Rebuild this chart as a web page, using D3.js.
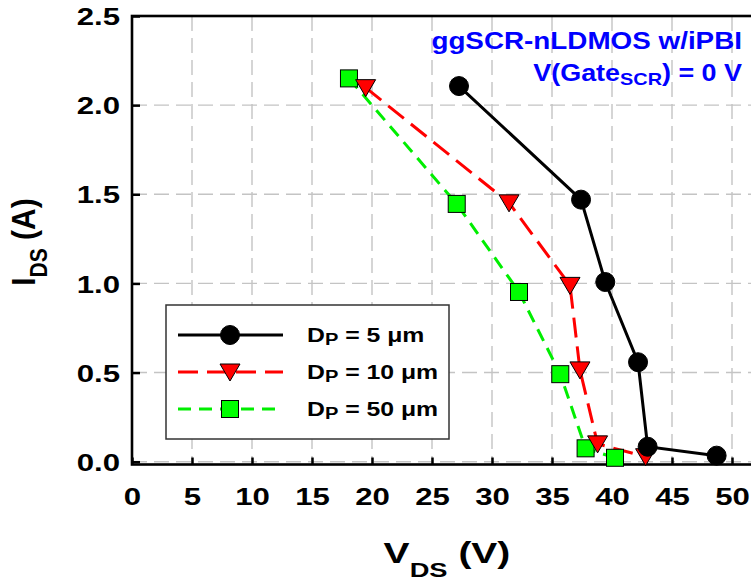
<!DOCTYPE html>
<html>
<head>
<meta charset="utf-8">
<script src="https://cdn.jsdelivr.net/npm/d3@7"></script>
<style>
  html, body { margin: 0; padding: 0; background: #fff; }
  svg { display: block; font-family: "Liberation Sans", Arial, sans-serif; }
</style>
</head>
<body>
<svg id="chart" width="751" height="583"></svg>
<script>
// Drain voltage (V) and drain current (A) for each gate-well spacing Dp
const seriesNames = ["5", "10", "50"];
const vdsDp5  = [27.25, 37.42, 39.44, 42.17, 42.97, 48.72];
const idsDp5  = [2.107, 1.470, 1.008, 0.558, 0.084, 0.034];
const vdsDp10 = [19.47, 31.42, 36.50, 37.33, 38.80, 42.80];
const idsDp10 = [2.098, 1.452, 0.989, 0.515, 0.100, 0.028];
const vdsDp50 = [18.08, 27.06, 32.25, 35.69, 37.80, 40.25];
const idsDp50 = [2.150, 1.446, 0.952, 0.491, 0.075, 0.022];

const xTicks = [0, 5, 10, 15, 20, 25, 30, 35, 40, 45, 50];
const yTicks = [0.0, 0.5, 1.0, 1.5, 2.0, 2.5];

const svg = d3.select("#chart");

// widen a text element horizontally about its anchor x
function widen(sel, sx) {
  sel.each(function () {
    const t = d3.select(this);
    const x0 = +(t.attr("x") || 0);
    t.attr("transform", `translate(${x0},0) scale(${sx},1) translate(${-x0},0)`);
  });
}

// plot frame
const pL = 132, pR = 760, pT = 16, pB = 464.5;
const x = d3.scaleLinear().domain([0, (pR - pL) / 12]).range([pL, pR]);
const y = d3.scaleLinear().domain([-0.0157, 2.5]).range([pB, pT]);

// dashed grid
const grid = svg.append("g").attr("stroke", "#c4c4c4").attr("stroke-width", 1.4)
  .attr("stroke-dasharray", "15,7");
grid.selectAll("line.v").data(xTicks.filter(d => d > 0)).join("line").attr("class", "v")
  .attr("x1", d => x(d)).attr("x2", d => x(d)).attr("y1", pT).attr("y2", pB);
grid.selectAll("line.h").data(yTicks).join("line").attr("class", "h")
  .attr("x1", pL).attr("x2", pR).attr("y1", d => y(d)).attr("y2", d => y(d));

// axes with inward ticks
const xAxis = svg.append("g").attr("transform", `translate(0,${pB})`)
  .call(d3.axisBottom(x).tickValues(xTicks).tickSize(-7).tickPadding(41).tickFormat(d3.format("d")));
const yAxis = svg.append("g").attr("transform", `translate(${pL},0)`)
  .call(d3.axisLeft(y).tickValues(yTicks).tickSize(-8).tickPadding(12).tickFormat(d3.format(".1f")));
[xAxis, yAxis].forEach(a => {
  a.select(".domain").remove();
  a.selectAll(".tick line").attr("stroke", "#000").attr("stroke-width", 2.5);
  a.selectAll(".tick text").attr("fill", "#000").attr("font-size", 24).attr("font-weight", "bold")
    .attr("font-family", "'Liberation Sans', Arial, sans-serif");
});
xAxis.selectAll(".tick text").attr("dy", "0");
yAxis.selectAll(".tick text").attr("dy", "0.36em");
widen(xAxis.selectAll(".tick text"), 1.3);
widen(yAxis.selectAll(".tick text"), 1.3);

svg.append("rect").attr("x", pL).attr("y", pT).attr("width", pR - pL).attr("height", pB - pT)
  .attr("fill", "none").attr("stroke", "#000").attr("stroke-width", 2.6);

// series
const series = [
  { name: seriesNames[0], vds: vdsDp5,  ids: idsDp5,  color: "#000000", dash: null,   marker: "circle" },
  { name: seriesNames[1], vds: vdsDp10, ids: idsDp10, color: "#ff0000", dash: "20,9", marker: "triangle" },
  { name: seriesNames[2], vds: vdsDp50, ids: idsDp50, color: "#00ee00", dash: "13,8", marker: "square" }
];

const line = d3.line().x(d => x(d[0])).y(d => y(d[1]));

function drawMarker(g, kind) {
  if (kind === "circle") {
    g.append("circle").attr("r", 9.5).attr("fill", "#000").attr("stroke", "#000");
  } else if (kind === "triangle") {
    g.append("path").attr("d", "M-10,-8L10,-8L0,9Z").attr("fill", "#ff0000")
      .attr("stroke", "#000").attr("stroke-width", 1);
  } else {
    g.append("rect").attr("x", -8.5).attr("y", -8.5).attr("width", 17).attr("height", 17)
      .attr("fill", "#00ff00").attr("stroke", "#000").attr("stroke-width", 1);
  }
}

// lines first (back to front: green, red, black), then markers
const order = [2, 1, 0];
order.forEach(i => {
  const s = series[i];
  const pts = s.vds.map((v, k) => [v, s.ids[k]]);
  svg.append("path").attr("d", line(pts)).attr("fill", "none").attr("stroke", s.color)
    .attr("stroke-width", 3).attr("stroke-dasharray", s.dash);
});
order.forEach(i => {
  const s = series[i];
  s.vds.forEach((v, k) => {
    const g = svg.append("g").attr("transform", `translate(${x(v)},${y(s.ids[k])})`);
    drawMarker(g, s.marker);
  });
});

// legend
const lg = svg.append("g");
lg.append("rect").attr("x", 166).attr("y", 305).attr("width", 283).attr("height", 134)
  .attr("fill", "#fff").attr("stroke", "#333").attr("stroke-width", 1.5);
series.forEach((s, i) => {
  const ly = 335 + i * 37;
  lg.append("line").attr("x1", 178).attr("x2", 283).attr("y1", ly).attr("y2", ly)
    .attr("stroke", s.color).attr("stroke-width", 3).attr("stroke-dasharray", s.dash);
  drawMarker(lg.append("g").attr("transform", `translate(230,${ly})`), s.marker);
  const t = lg.append("text").attr("x", 307).attr("y", ly + 7).attr("font-size", 21)
    .attr("font-weight", "bold").attr("fill", "#000");
  t.append("tspan").text("D");
  t.append("tspan").attr("font-size", 17).attr("dy", 3).text("P");
  t.append("tspan").attr("dy", -3).text(` = ${s.name} \u03bcm`);
  widen(t, 1.18);
});

// annotation
const ann = svg.append("g").attr("fill", "#0000ff").attr("font-weight", "bold").attr("font-size", 23)
  .attr("text-anchor", "end");
const a1 = ann.append("text").attr("x", 742).attr("y", 49).text("ggSCR-nLDMOS w/iPBI");
const a2 = ann.append("text").attr("x", 742).attr("y", 81);
a2.append("tspan").text("V(Gate");
a2.append("tspan").attr("font-size", 17).attr("dy", 4).text("SCR");
a2.append("tspan").attr("dy", -4).text(") = 0 V");
widen(a1, 1.21);
widen(a2, 1.17);

// axis titles
const xt = svg.append("text").attr("x", 447).attr("y", 563).attr("text-anchor", "middle")
  .attr("font-size", 30).attr("font-weight", "bold").attr("fill", "#000");
xt.append("tspan").text("V");
xt.append("tspan").attr("font-size", 21).attr("dy", 14).text("DS");
xt.append("tspan").attr("dy", -14).text(" (V)");
widen(xt, 1.3);

const yt = svg.append("text").attr("transform", "translate(35,242) scale(1.1,1) rotate(-90)").attr("text-anchor", "middle")
  .attr("font-size", 30).attr("font-weight", "bold").attr("fill", "#000");
yt.append("tspan").text("I");
yt.append("tspan").attr("font-size", 21).attr("dy", 11).text("DS");
yt.append("tspan").attr("dy", -11).text(" (A)");
</script>
</body>
</html>
